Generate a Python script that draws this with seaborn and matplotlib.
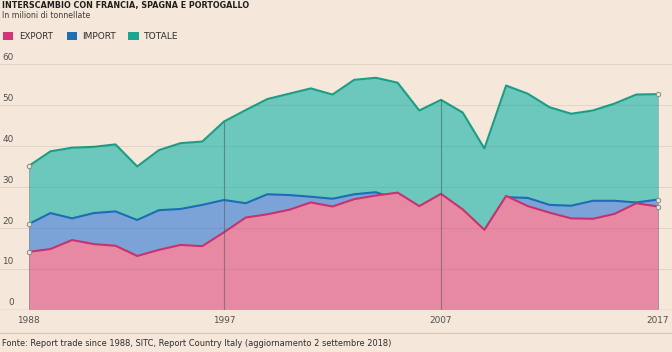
import numpy as np
import pandas as pd
import matplotlib
matplotlib.use("Agg")
import matplotlib.pyplot as plt
from matplotlib.patches import Rectangle
from matplotlib.lines import Line2D
import matplotlib.transforms as mtransforms
import seaborn as sns

years = list(range(1988, 2018))
export_vals = [14.1, 14.8, 17.0, 16.0, 15.6, 13.1, 14.6, 15.8, 15.5, 18.9,
               22.5, 23.3, 24.4, 26.2, 25.2, 27.0, 27.9, 28.6, 25.3, 28.3,
               24.5, 19.5, 27.8, 25.3, 23.7, 22.3, 22.2, 23.4, 26.0, 25.2]
import_vals = [20.9, 23.6, 22.3, 23.6, 24.0, 21.9, 24.3, 24.6, 25.6, 26.8,
               26.0, 28.2, 28.0, 27.6, 27.1, 28.2, 28.7, 26.9, 23.4, 23.0,
               23.7, 19.3, 27.5, 27.3, 25.6, 25.4, 26.6, 26.6, 26.2, 26.9]
totale_vals = [35.1, 38.7, 39.6, 39.8, 40.4, 35.0, 39.0, 40.7, 41.1, 46.0,
               48.8, 51.5, 52.8, 54.1, 52.6, 56.2, 56.7, 55.5, 48.7, 51.3,
               48.2, 39.4, 54.8, 52.8, 49.5, 47.9, 48.7, 50.4, 52.6, 52.7]
series_names = ["EXPORT", "IMPORT", "TOTALE"]
x_ticks = [1988, 1997, 2007, 2017]
y_ticks = [0, 10, 20, 30, 40, 50, 60]
marked_years = [1997, 2007]

title = "INTERSCAMBIO CON FRANCIA, SPAGNA E PORTOGALLO"
subtitle = "In milioni di tonnellate"
source = "Fonte: Report trade since 1988, SITC, Report Country Italy (aggiornamento 2 settembre 2018)"

BG = "#F5E7D9"
line_cols = {"EXPORT": "#C8326F", "IMPORT": "#1C6DB4", "TOTALE": "#1B9E85"}
fill_cols = {"EXPORT": "#E889A4", "IMPORT": "#7CA3D8", "TOTALE": "#6CC8BC"}
legend_cols = {"EXPORT": "#D4357A", "IMPORT": "#1E70B6", "TOTALE": "#1CA690"}

sns.set_theme(style="white")
plt.rcParams["font.family"] = ["DejaVu Sans"]

df = pd.DataFrame({"anno": years, "EXPORT": export_vals,
                   "IMPORT": import_vals, "TOTALE": totale_vals})
long = df.melt(id_vars="anno", var_name="serie", value_name="valore")

W, H = 672, 352
fig = plt.figure(figsize=(W / 100, H / 100), dpi=100, facecolor=BG)

px_per_year = 21.7
x0_px = 28.7
y0_px, y60_px = 309.5, 64.3
px_per_unit = (y0_px - y60_px) / 60
ax_top_px = 50
ax = fig.add_axes([0, (H - y0_px) / H, 1, (y0_px - ax_top_px) / H])
ax.set_facecolor(BG)
ax.set_xlim(years[0] - x0_px / px_per_year, years[0] + (W - x0_px) / px_per_year)
ax.set_ylim(0, (y0_px - ax_top_px) / px_per_unit)

z = 1
for name in ["TOTALE", "IMPORT", "EXPORT"]:
    ax.fill_between(df["anno"], 0, df[name], color=fill_cols[name], lw=0, zorder=z)
    sns.lineplot(data=long[long["serie"] == name], x="anno", y="valore",
                 color=line_cols[name], lw=1.5, ax=ax, legend=False, zorder=z + 0.5)
    z += 1

# area edges at start / end
for yr in [years[0], years[-1]]:
    tv = df.loc[df["anno"] == yr, "TOTALE"].values[0]
    ax.plot([yr, yr], [0, tv], color="#6b6b6b", lw=0.6, alpha=0.35, zorder=5)

# vertical markers
for yr in marked_years:
    tv = df.loc[df["anno"] == yr, "TOTALE"].values[0]
    ax.plot([yr, yr], [0, tv], color="#4a5a5a", lw=0.8, alpha=0.55, zorder=5)

# endpoint markers
for yr in [years[0], years[-1]]:
    for name in series_names:
        v = df.loc[df["anno"] == yr, name].values[0]
        ax.plot([yr], [v], marker="o", ms=3.2, mfc="#EEE6DC", mec="#8a8a8a",
                mew=0.7, zorder=6)

tick_fs = 6.4
ylab_off = mtransforms.offset_copy(ax.get_yaxis_transform(), fig=fig, x=0, y=4.2, units="dots")
for t in y_ticks:
    ax.axhline(t, color="#5b5348" if t > 0 else "#BDB3A6",
               lw=0.7 if t > 0 else 0.9, alpha=0.12 if t > 0 else 1.0, zorder=4)
    ax.text(13.5 / W, t, f"{t}", transform=ylab_off, ha="right", va="baseline",
            fontsize=tick_fs, color="#505050", zorder=7)

ax.set_xticks([])
ax.set_yticks([])
ax.set_xlabel("")
ax.set_ylabel("")
for s in ax.spines.values():
    s.set_visible(False)

xlab_tr = mtransforms.blended_transform_factory(ax.transData, fig.transFigure)
for yr in x_ticks:
    ax.text(yr, 1 - 323.3 / H, str(yr), ha="center", va="baseline",
            fontsize=tick_fs, color="#505050", transform=xlab_tr, clip_on=False)

# separator line
fig.add_artist(Line2D([0, 1], [(H - 332.7) / H] * 2, color="#D6C9BC", lw=0.9))

t_title = fig.text(2 / W, 1 - 7.8 / H, title, fontsize=6.0, fontweight="bold",
                   color="#1f1f1f", ha="left", va="baseline")
t_sub = fig.text(2.5 / W, 1 - 18.4 / H, subtitle, fontsize=5.8, color="#404040",
                 ha="left", va="baseline")
t_src = fig.text(2.5 / W, 1 - 346.3 / H, source, fontsize=6.1, color="#2e2e2e",
                 ha="left", va="baseline")

# legend
leg_items = [(2.7, 19.0, 52.7), (66.7, 82.3, 116.0), (128.3, 144.0, 178.3)]
leg_texts = []
for name, (sx, tx, tx2) in zip(series_names, leg_items):
    fig.add_artist(Rectangle((sx / W, 1 - 40.3 / H), 10.4 / W, 8.6 / H,
                             transform=fig.transFigure, facecolor=legend_cols[name],
                             edgecolor="none"))
    tt = fig.text(tx / W, 1 - 39.2 / H, name, fontsize=6.7, color="#2e2e2e",
                  ha="left", va="baseline")
    leg_texts.append((tt, tx2 - tx))


def fit(txt, target_px):
    fig.canvas.draw()
    r = fig.canvas.get_renderer()
    w = txt.get_window_extent(r).width
    txt.set_fontsize(txt.get_fontsize() * target_px / w)


fit(t_title, 245)
fit(t_sub, 88)
fit(t_src, 392)
for tt, wpx in leg_texts:
    fit(tt, wpx)

fig.savefig("out.png", dpi=100, facecolor=BG)
